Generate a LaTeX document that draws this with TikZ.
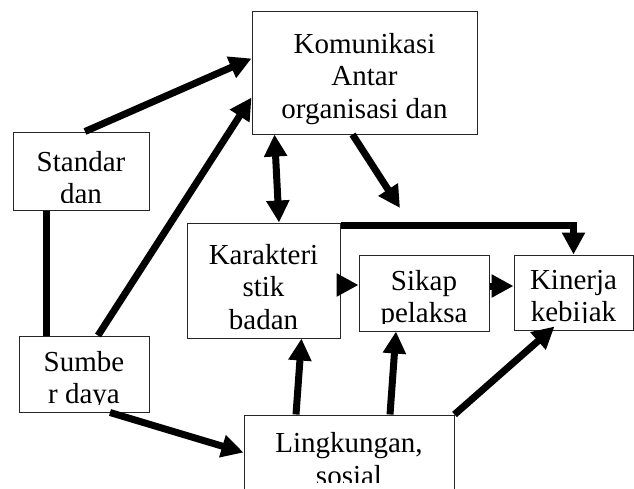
\documentclass[tikz,border=0pt]{standalone}
\usepackage{fontspec}
\setmainfont{Liberation Serif}
\usepackage{tikz}
\usetikzlibrary{arrows.meta, positioning, calc}

\begin{document}
\begin{tikzpicture}[x=1pt, y=-1pt,
      boxtext/.style={anchor=north, inner sep=0pt, align=center, font=\fontsize{29pt}{32.5pt}\selectfont},
      txtbox/.style={rectangle, draw=black!85, line width=1pt, inner sep=0pt, path picture={
          \clip ([shift={(9pt,-9pt)}]path picture bounding box.north west) rectangle ([shift={(-9pt,8pt)}]path picture bounding box.south east);
          \node[boxtext] at ([yshift=-6pt]path picture bounding box.north) {#1};}},
      arr/.style={-{Triangle[length=22pt, width=22pt]}, line width=7pt},
      dblarr/.style={{Triangle[length=22pt, width=22pt]}-{Triangle[length=22pt, width=22pt]}, line width=7pt},
      link/.style={line width=7pt}
  ]
    \useasboundingbox (0,0) rectangle (634,488);

    % Top
    \node[txtbox={Komunikasi\\Antar\\organisasi dan}, minimum width=225pt, minimum height=123pt] (kom) at (364.5, 72.5) {};

    % Left column
    \node[txtbox={Standar\\dan}, minimum width=136pt, minimum height=78pt] (std) at (81, 171) {};
    \node[txtbox={Sumbe\\r daya}, minimum width=130pt, minimum height=76pt] (smb) at (84, 374) {};

    % Middle row
    \node[txtbox={Karakteri\\stik\\badan}, minimum width=153pt, minimum height=115pt] (kar) at (263.5, 280.5) {};
    \node[txtbox={Sikap\\pelaksa}, minimum width=130pt, minimum height=76pt] (skp) at (424, 293) {};
    \node[txtbox={Kinerja\\kebijak}, minimum width=119pt, minimum height=75pt] (kin) at (573.5, 292.5) {};

    % Bottom
    \node[txtbox={Lingkungan,\\sosial}, minimum width=210pt, minimum height=75pt] (lkg) at (349, 452.5) {};

    \coordinate (komtip) at (400, 208);

    % Connections
    \draw[arr] ([xshift=4pt]std.north) -- ([yshift=14pt]kom.west);
    \draw[arr] ([xshift=14pt]smb.north) -- ([yshift=-25pt]kom.west);
    \draw[link] ([xshift=-35pt]std.south) -- ([xshift=-35pt]std.south |- smb.north);
    \draw[dblarr] ([xshift=-90pt]kom.south) -- ([xshift=15.5pt]kar.north);
    \draw[arr] ([xshift=-12pt]kom.south) -- (komtip);
    \draw[arr] ([yshift=-3pt]kar.north east) -| (kin.north);
    \draw[arr] ([yshift=-4.5pt]kar.east) -- ([yshift=8pt]skp.west);
    \draw[arr] ([yshift=7pt]skp.east) -- ([yshift=7pt]skp.east -| kin.west);
    \draw[arr] ([xshift=26pt]smb.south) -- (lkg.west);
    \draw[arr] ([xshift=-53pt]lkg.north) -- ([xshift=38pt]kar.south);
    \draw[arr] ([xshift=41pt]lkg.north) -- ([xshift=-28pt]skp.south);
    \draw[arr] (lkg.north east) -- ([xshift=-19pt, yshift=4pt]kin.south);
  \end{tikzpicture}
\end{document}
